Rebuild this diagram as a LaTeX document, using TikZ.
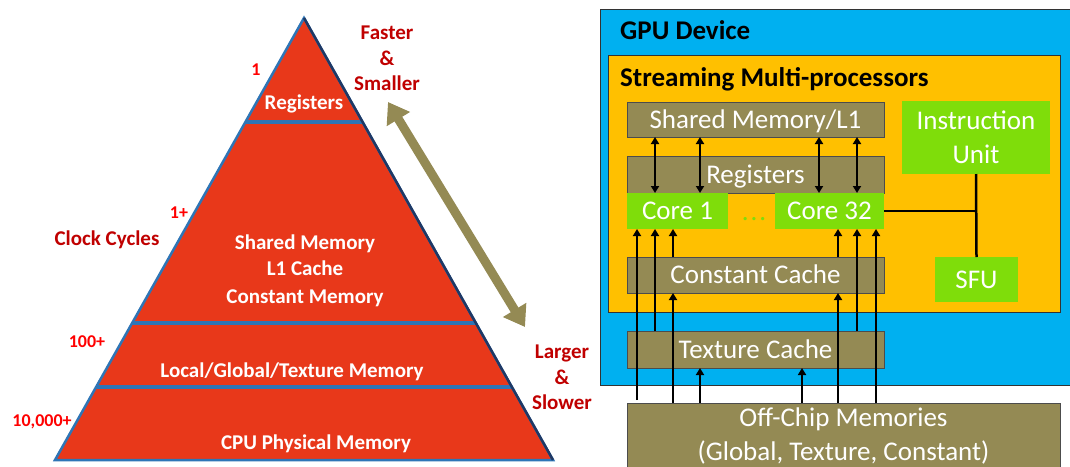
\documentclass[tikz,border=0pt]{standalone}
\usepackage{fontspec}
\setmainfont{Carlito}
\usetikzlibrary{arrows.meta,calc}
\definecolor{pyrred}{HTML}{E8381A}
\definecolor{pyrblue}{HTML}{2E75B6}
\definecolor{pyrnavy}{HTML}{1F3864}
\definecolor{olivebox}{HTML}{948A54}
\definecolor{gpugreen}{HTML}{7FDD0A}
\definecolor{smorange}{HTML}{FFC000}
\definecolor{gpublue}{HTML}{00B0F0}
\definecolor{darkred}{HTML}{C00000}
\definecolor{brightred}{HTML}{FF0000}
\begin{document}
\begin{tikzpicture}[x=1pt,y=-1pt,
  pyrtext/.style={text=white,font=\fontsize{21}{25}\selectfont\bfseries,anchor=base,inner sep=0pt},
  cyclabel/.style={text=brightred,font=\fontsize{18}{21}\selectfont\bfseries,anchor=base,inner sep=0pt},
  sidelabel/.style={text=darkred,font=\fontsize{21}{25.6}\selectfont\bfseries,align=center,inner sep=0pt},
  titletext/.style={text=black,font=\fontsize{27}{32}\selectfont\bfseries,anchor=base west,inner sep=0pt},
  boxbase/.style={inner sep=0pt,outer sep=0pt,text=white,font=\fontsize{27}{33.5}\selectfont},
  memblock/.style={boxbase,fill=olivebox,draw=black!70,line width=0.8pt,text height=17.5pt,text depth=0pt},
  unitblock/.style={boxbase,fill=gpugreen,text height=17.5pt,text depth=0pt},
  arr/.style={-{Triangle[width=8pt,length=7pt]},line width=2.4pt,black},
  dblarr/.style={{Triangle[width=8pt,length=7pt]}-{Triangle[width=8pt,length=7pt]},line width=2.4pt,black},
  wire/.style={line width=2.5pt,black},
  bigarrow/.style={olivebox,line width=9pt,{Triangle[width=26pt,length=20pt]}-{Triangle[width=26pt,length=20pt]}}
]
\useasboundingbox (0,0) rectangle (1070,466);

% ---------------- Pyramid ----------------
\fill[pyrred] (304,18) -- (553,460) -- (55,460) -- cycle;
\begin{scope}
  \clip (304,18) -- (553,460) -- (55,460) -- cycle;
  \draw[pyrblue,line width=4.5pt] (0,122) -- (600,122);
  \draw[pyrblue,line width=4.5pt] (0,323) -- (600,323);
  \draw[pyrblue,line width=4.5pt] (0,387) -- (600,387);
\end{scope}
\draw[pyrblue,line width=2.5pt,line join=miter] (304,18) -- (553,460) -- (55,460) -- cycle;
\draw[pyrnavy,line width=2.5pt] (304,18) -- (553,460);

\node[pyrtext] (tReg) at (304,109) {Registers};
\node[pyrtext] (tShm) at (305,249) {Shared Memory};
\node[pyrtext] (tL1) at (305,275) {L1 Cache};
\node[pyrtext] (tCm) at (305,303) {Constant Memory};
\node[pyrtext] (tLgt) at (292,377) {Local/Global/Texture Memory};
\node[pyrtext] (tCpu) at (316,449) {CPU Physical Memory};

\node[cyclabel] (c1) at (256,75) {1};
\node[cyclabel] (c1p) at (179,218) {1+};
\node[cyclabel] (c100) at (87,347) {100+};
\node[cyclabel] (c10k) at (42,426) {10,000+};
\node[text=darkred,font=\fontsize{21}{25}\selectfont\bfseries,anchor=base,inner sep=0pt] (clk) at (107,245) {Clock Cycles};

\node[sidelabel] (fs) at (387,58.5) {Faster\\\&\\Smaller};
\node[sidelabel] (ls) at (562,377.5) {Larger\\\&\\Slower};

\coordinate (fastend) at (388,102);
\coordinate (slowend) at (525,327);
\draw[bigarrow] (fastend) -- (slowend);

% ---------------- GPU ----------------
\node[fill=gpublue,draw=black!80,line width=1pt,minimum width=473pt,minimum height=376pt,anchor=north west,inner sep=0pt] (gpu) at (600,9) {};
\node[titletext] (gputitle) at (620,39) {GPU Device};
\node[fill=smorange,draw=black!80,line width=1pt,minimum width=452pt,minimum height=257pt,anchor=north west,inner sep=0pt] (sm) at (608,55) {};
\node[titletext] (smtitle) at (620,86) {Streaming Multi-processors};

\node[memblock,minimum width=257pt,minimum height=35pt] (smem) at (755.5,119.5) {Shared Memory/L1};
\node[memblock,minimum width=257pt,minimum height=37pt,anchor=north] (regs) at (755.5,156) {};
\node[boxbase,text height=17.5pt,text depth=0pt] (regstext) at (755.5,175) {Registers};
\node[unitblock,minimum width=101pt,minimum height=36pt] (core1) at (677.5,211) {Core 1};
\node[unitblock,minimum width=109pt,minimum height=36pt] (core32) at (829.5,211) {Core 32};
\node[boxbase,text=gpugreen,anchor=base] (dots) at (754,220) {.\kern2pt.\kern2pt.};
\node[boxbase,fill=gpugreen,align=center,minimum width=148pt,minimum height=73pt] (iu) at (976,137.5) {Instruction\\Unit};
\node[unitblock,minimum width=83pt,minimum height=45pt] (sfu) at (976.5,279.5) {SFU};
\node[memblock,minimum width=257pt,minimum height=36pt] (const) at (755.5,275) {Constant Cache};
\node[memblock,minimum width=257pt,minimum height=37pt] (tex) at (755.5,349.5) {Texture Cache};
\node[boxbase,fill=olivebox,draw=black!70,line width=0.8pt,align=center,minimum width=433pt,minimum height=66pt] (offchip) at (843.5,436) {Off-Chip Memories\\(Global, Texture, Constant)};

% wires to instruction unit / SFU
\draw[wire] (iu.south) -- (sfu.north);
\draw[wire] (core32.east) -- (core32.east -| iu.south);

% column coordinates
\coordinate (xA) at (637,0);
\coordinate (xB) at (655,0);
\coordinate (xC) at (673,0);
\coordinate (xD) at (700,0);
\coordinate (xE) at (802,0);
\coordinate (xF) at (819,0);
\coordinate (xG) at (838,0);
\coordinate (xH) at (857,0);
\coordinate (xI) at (876,0);

% shared memory <-> cores
\draw[dblarr] (smem.south -| xB) -- (core1.north -| xB);
\draw[dblarr] (smem.south -| xD) -- (core1.north -| xD);
\draw[dblarr] (smem.south -| xF) -- (core32.north -| xF);
\draw[dblarr] (smem.south -| xH) -- (core32.north -| xH);

% upward arrows into cores
\draw[arr] ($(offchip.north -| xA)+(0,-3)$) -- (core1.south -| xA);
\draw[arr] (tex.north -| xB) -- (core1.south -| xB);
\draw[arr] (const.north -| xC) -- (core1.south -| xC);
\draw[arr] (offchip.north -| xC) -- (const.south -| xC);
\draw[arr] (offchip.north -| xD) -- (tex.south -| xD);
\draw[arr] (offchip.north -| xE) -- (tex.south -| xE);
\draw[arr] (offchip.north -| xG) -- (const.south -| xG);
\draw[arr] (const.north -| xG) -- (core32.south -| xG);
\draw[arr] (tex.north -| xH) -- (core32.south -| xH);
\draw[arr] (offchip.north -| xI) -- (core32.south -| xI);
\end{tikzpicture}
\end{document}
